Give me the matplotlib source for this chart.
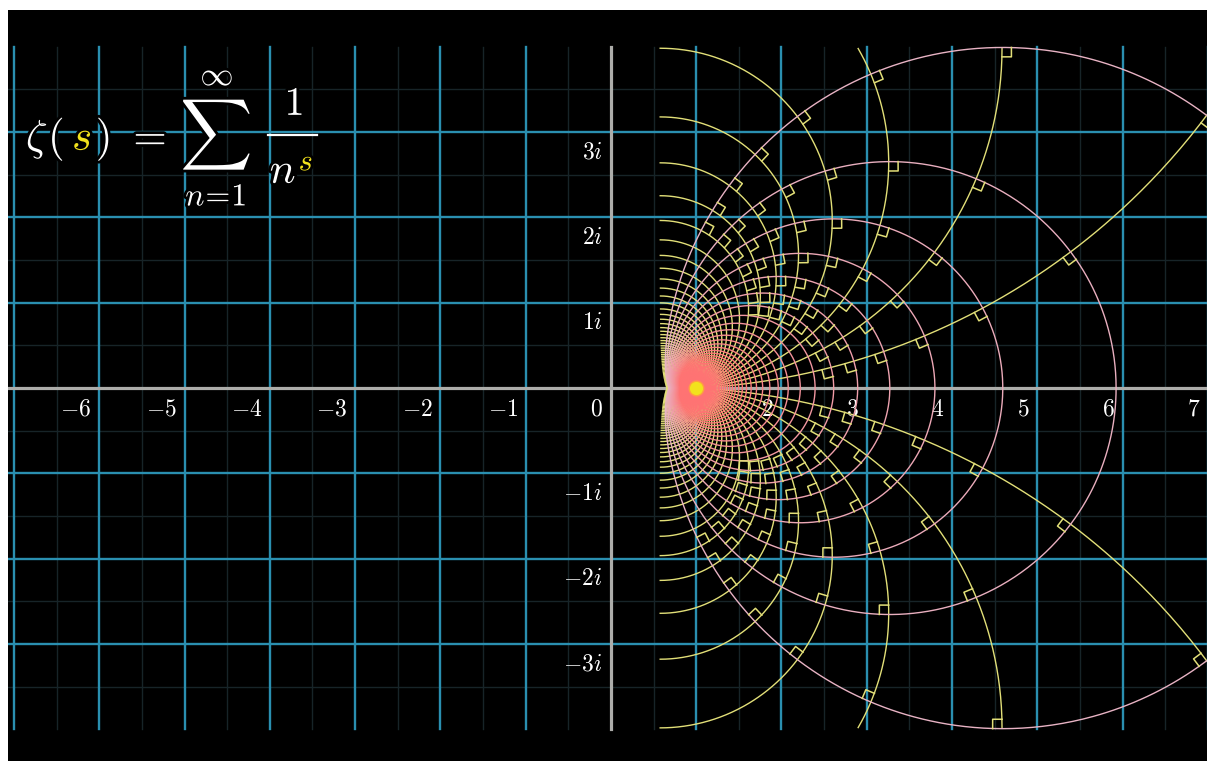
import numpy as np
import matplotlib.pyplot as plt
from matplotlib import patheffects as pe
from matplotlib.lines import Line2D

plt.rcParams['mathtext.fontset'] = 'cm'

W, H = 1207, 761

# input grid in the s-plane: s = 1 + a + i*b, lines every 1/16
step = 1 / 16
re_offsets = np.arange(2, 65) * step          # vertical lines  Re(s) = 1 + a
im_values = np.arange(-64, 65) * step         # horizontal lines Im(s) = b
im_values = im_values[im_values != 0]
mark_re = np.arange(2, 9) * step              # right-angle marks on these
mark_im = np.concatenate([-np.arange(1, 9), np.arange(1, 9)]) * step

x_ticks = [-6, -5, -4, -3, -2, -1, 0, 2, 3, 4, 5, 6, 7]
y_ticks = [3, 2, 1, -1, -2, -3]

blue = '#2a8fb0'
faint = '#172428'
axis_col = '#adadaa'
yellow = '#e2df78'
pink = np.array([0.91, 0.70, 0.77])
salmon = np.array([1.0, 0.45, 0.45])
dot_col = '#f2e21c'

bern = [1/6, -1/30, 1/42, -1/30, 5/66, -691/2730]


def zeta(s, N=25):
    s = np.atleast_1d(np.asarray(s, dtype=complex))
    n = np.arange(1, N, dtype=float)[:, None]
    z = np.sum(n ** (-s[None, :]), axis=0)
    z += N ** (1 - s) / (s - 1) + 0.5 * N ** (-s)
    poch = s.copy()
    fact = 2.0
    for k, b2k in enumerate(bern, start=1):
        z += b2k / fact * poch * N ** (-s - 2 * k + 1)
        poch = poch * (s + 2 * k - 1) * (s + 2 * k)
        fact *= (2 * k + 1) * (2 * k + 2)
    return z


def dzeta(s, h=1e-6):
    return (zeta(s + h) - zeta(s - h)) / (2 * h)


def clipped(w, top=4.01):
    w = w.copy()
    w[np.abs(w.imag) > top] = np.nan
    return w


fig = plt.figure(figsize=(W / 100, H / 100), dpi=100)
fig.patch.set_facecolor('white')
ax = fig.add_axes([8 / W, 0, 1199 / W, 751 / H])
ax.set_facecolor('black')
ax.set_xlim(-7.07, 6.99)
ax.set_ylim(-4.37, 4.43)
ax.set_xticks([])
ax.set_yticks([])
for sp in ax.spines.values():
    sp.set_visible(False)

# background plane
for x in np.arange(-6.5, 7, 1):
    ax.plot([x, x], [-4, 4], color=faint, lw=1, zorder=1)
for y in np.arange(-3.5, 4, 1):
    ax.plot([-7.5, 7.5], [y, y], color=faint, lw=1, zorder=1)
for x in range(-7, 8):
    if x != 0:
        ax.plot([x, x], [-4, 4], color=blue, lw=1.7, zorder=1.1)
for y in range(-3, 4):
    if y != 0:
        ax.plot([-7.5, 7.5], [y, y], color=blue, lw=1.7, zorder=1.1)
ax.plot([-7.5, 7.5], [0, 0], color=axis_col, lw=2.3, zorder=1.2)
ax.plot([0, 0], [-4, 4], color=axis_col, lw=2.3, zorder=1.2)

for v in x_ticks:
    ax.text(v - 0.09, -0.24, '$%s$' % ('-%d' % -v if v < 0 else '%d' % v),
            color='white', fontsize=17, ha='right', va='center', zorder=1.5)
for v in y_ticks:
    ax.text(-0.1, v - 0.23, '$%di$' % v, color='white', fontsize=17,
            ha='right', va='center', zorder=1.5)

# images of horizontal lines (yellow)
t = np.linspace(0, 1, 900)
a_path = 6 * t ** 2
for b in im_values:
    w = clipped(zeta(1 + a_path + 1j * b))
    ax.plot(w.real, w.imag, color=yellow, lw=1.0, zorder=3)

# images of vertical lines (pink)
t = np.linspace(-1, 1, 2401)
b_path = 4 * t * np.abs(t)
for a in re_offsets:
    w = clipped(zeta(1 + a + 1j * b_path))
    f = np.clip((a - 0.125) / 1.0, 0, 1)
    ax.plot(w.real, w.imag, color=pink * (1 - f) + salmon * f, lw=1.0, zorder=3.1)

# right-angle marks
h = 0.11
for a in mark_re:
    for b in mark_im:
        s = 1 + a + 1j * b
        p = zeta(s)[0]
        if abs(p.imag) > 4.01:
            continue
        d = dzeta(s)[0]
        u = d / abs(d)
        c = np.array([p + h * u, p + h * (u + 1j * u), p + h * 1j * u])
        ax.plot(c.real, c.imag, color=yellow, lw=1.1, zorder=3.5)

ax.scatter([1], [0], s=110, color=dot_col, edgecolor='#ffa040', lw=1, zorder=5)

# formula
stroke = [pe.withStroke(linewidth=4, foreground='black')]


def ftext(x, y, s, size, color='white', ha='left', va='baseline'):
    tx = fig.text(x / W, 1 - y / H, s, fontsize=size, color=color, ha=ha, va=va, zorder=10)
    tx.set_path_effects(stroke)


ftext(37, 150, r'$\zeta$', 31, ha='center')
ftext(56, 150, r'$($', 31, ha='center')
ftext(82, 150, r'$s$', 31, dot_col, ha='center')
ftext(103, 150, r'$)$', 31, ha='center')
ftext(146, 150, r'$=$', 31, ha='center')
ftext(216, 135, r'$\sum$', 36, ha='center', va='center')
ftext(217, 76, r'$\infty$', 24, ha='center', va='center')
ftext(216, 197, r'$n\!=\!1$', 23, ha='center', va='center')
ftext(294, 104, r'$1$', 29, ha='center', va='center')
fig.add_artist(Line2D([268 / W, 317 / W], [1 - 135 / H] * 2, color='white', lw=1.6, zorder=10))
ftext(283, 183, r'$n$', 31, ha='center')
ftext(306, 162, r'$s$', 22, dot_col, ha='center', va='center')

fig.savefig('out.png', dpi=100, facecolor='white')
